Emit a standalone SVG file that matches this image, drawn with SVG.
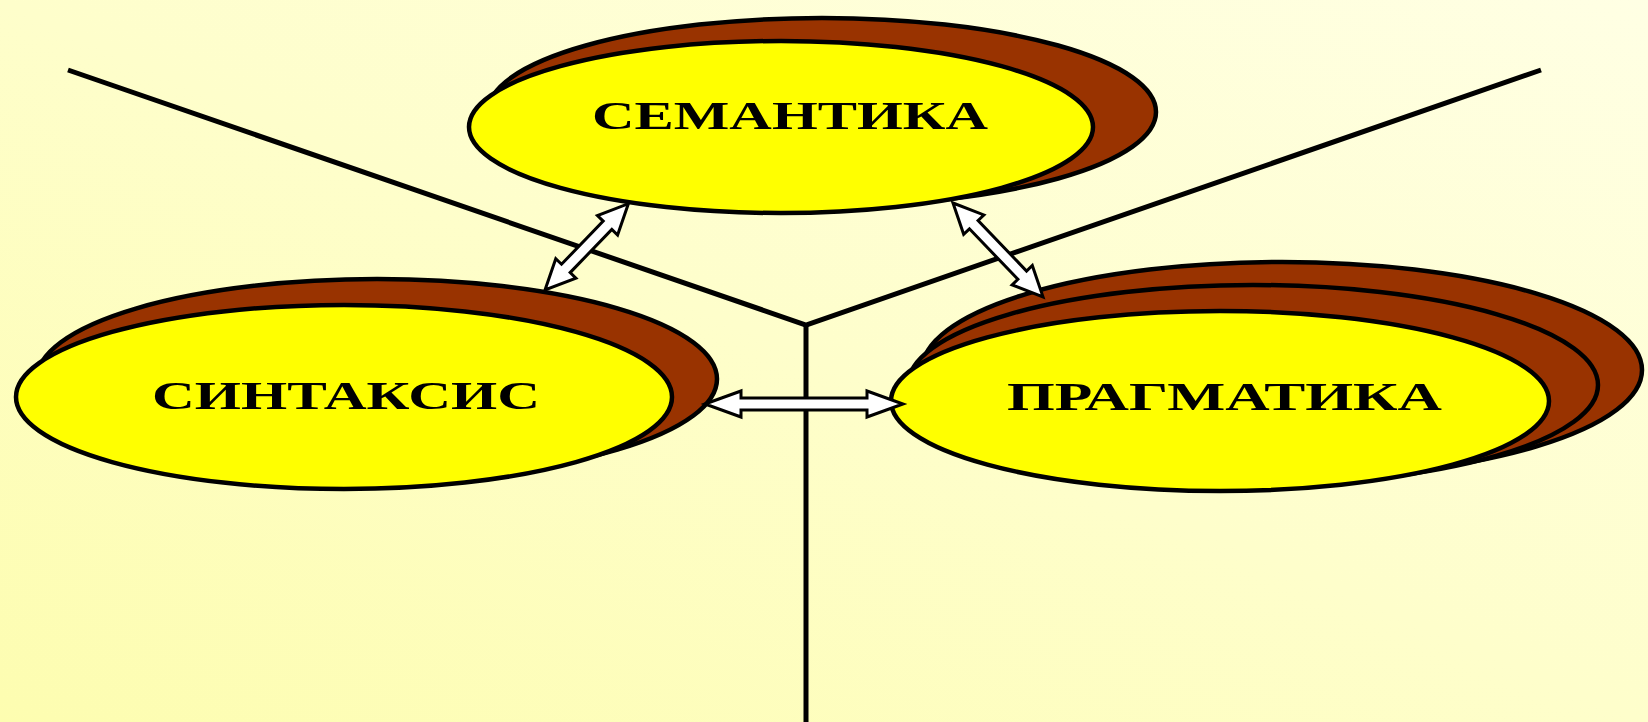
<svg xmlns="http://www.w3.org/2000/svg" width="1648" height="722" viewBox="0 0 1648 722">
  <defs>
    <linearGradient id="bg" x1="0" y1="1" x2="1" y2="0">
      <stop offset="0" stop-color="#fdfdb0"/>
      <stop offset="0.5" stop-color="#fefecb"/>
      <stop offset="1" stop-color="#ffffe4"/>
    </linearGradient>
    <style>
      .face { fill: #ffff00; stroke: #000; stroke-width: 4.5; }
      .back { fill: #993300; stroke: #000; stroke-width: 4.5; }
      .label { font-family: "Liberation Serif", "Times New Roman", serif; font-weight: bold; font-size: 40px; fill: #000; }
      .stem { stroke: #000; stroke-width: 5; fill: none; stroke-linecap: butt; stroke-linejoin: miter; }
      .arrow { fill: #ffffff; stroke: #000; stroke-width: 3; stroke-linejoin: miter; }
    </style>
  </defs>

  <rect x="0" y="0" width="1648" height="722" fill="url(#bg)"/>

  <!-- branching tree lines behind the ovals -->
  <g id="tree">
    <polyline class="stem" points="68,70 806,325 1541,70"/>
    <line class="stem" x1="806" y1="323" x2="806" y2="722" stroke-width="8"/>
  </g>

  <g id="node-semantika">
    <ellipse class="back" cx="822" cy="112" rx="334" ry="94"/>
    <ellipse class="face" cx="781" cy="127" rx="312" ry="86"/>
    <text class="label" x="592" y="129" textLength="396" lengthAdjust="spacingAndGlyphs">СЕМАНТИКА</text>
  </g>

  <g id="node-sintaksis">
    <ellipse class="back" cx="377" cy="379" rx="340" ry="100"/>
    <ellipse class="face" cx="344" cy="397" rx="328" ry="92"/>
    <text class="label" x="152" y="409" textLength="388" lengthAdjust="spacingAndGlyphs">СИНТАКСИС</text>
  </g>

  <g id="node-pragmatika">
    <ellipse class="back" cx="1282" cy="370" rx="360" ry="108"/>
    <ellipse class="back" cx="1253" cy="385" rx="345" ry="100"/>
    <ellipse class="face" cx="1220" cy="401" rx="329" ry="90"/>
    <text class="label" x="1007" y="410" textLength="435" lengthAdjust="spacingAndGlyphs">ПРАГМАТИКА</text>
  </g>

  <!-- double-headed block arrows between the ovals -->
  <g id="connectors">
    <path class="arrow" transform="translate(545,290) rotate(-46)" d="M0,0 L30,-14 L30,-6 L90,-6 L90,-14 L120,0 L90,14 L90,6 L30,6 L30,14 Z"/>
    <path class="arrow" transform="translate(953,203) rotate(46.2)" d="M0,0 L30,-14 L30,-6 L100,-6 L100,-14 L130,0 L100,14 L100,6 L30,6 L30,14 Z"/>
    <path class="arrow" transform="translate(705,404)" d="M0,0 L36,-13 L36,-6 L162,-6 L162,-13 L198,0 L162,13 L162,6 L36,6 L36,13 Z"/>
  </g>
</svg>
